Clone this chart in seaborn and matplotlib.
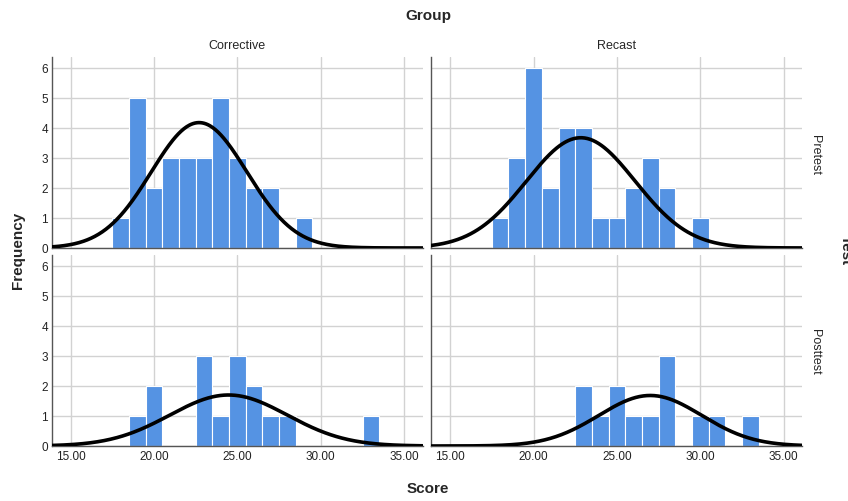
import numpy as np
import pandas as pd
import matplotlib
matplotlib.use("Agg")
import matplotlib.pyplot as plt
import seaborn as sns

# score values (bin centres, bin width 1) and counts
scores = [18, 19, 20, 21, 22, 23, 24, 25, 26, 27, 28, 29, 30, 31, 32, 33]
corrective_pre = [1, 5, 2, 3, 3, 3, 5, 3, 2, 2, 0, 1, 0, 0, 0, 0]
recast_pre = [1, 3, 6, 2, 4, 4, 1, 1, 2, 3, 2, 0, 1, 0, 0, 0]
corrective_post = [0, 1, 2, 0, 0, 3, 1, 3, 2, 1, 1, 0, 0, 0, 0, 1]
recast_post = [0, 0, 0, 0, 0, 2, 1, 2, 1, 1, 3, 0, 1, 1, 0, 1]

groups = ["Corrective", "Recast"]
tests = ["Pretest", "Posttest"]
x_ticks = [15, 20, 25, 30, 35]

counts = {
    ("Corrective", "Pretest"): corrective_pre,
    ("Recast", "Pretest"): recast_pre,
    ("Corrective", "Posttest"): corrective_post,
    ("Recast", "Posttest"): recast_post,
}

rows = []
for (grp, tst), cnt in counts.items():
    for s in np.repeat(scores, cnt):
        rows.append({"Group": grp, "Test": tst, "Score": float(s)})
df = pd.DataFrame(rows)

sns.set_style("white")
plt.rcParams["font.family"] = ["Liberation Sans", "DejaVu Sans"]

bar_color = "#5593E3"
grid_color = "#D2D2D2"
xlim = (13.88, 36.1)
ylim = (0, 6.36)
bins = np.arange(13.5, 36.6, 1)

g = sns.FacetGrid(df, row="Test", col="Group", row_order=tests, col_order=groups,
                  sharex=True, sharey=True, despine=False)
g.map_dataframe(sns.histplot, x="Score", bins=bins, color=bar_color, alpha=1,
                edgecolor="white", linewidth=0.8, zorder=2)

g.figure.set_size_inches(8.48, 5.02)
g.figure.subplots_adjust(left=52/848, right=802/848, top=1-58/502,
                         bottom=1-447/502, wspace=0.024, hspace=0.037)

xs = np.linspace(xlim[0], xlim[1], 400)
for i, tst in enumerate(tests):
    for j, grp in enumerate(groups):
        ax = g.axes[i, j]
        vals = df[(df.Group == grp) & (df.Test == tst)]["Score"]
        mu, sd, n = vals.mean(), vals.std(ddof=1), len(vals)
        ys = n * np.exp(-0.5 * ((xs - mu) / sd) ** 2) / (sd * np.sqrt(2 * np.pi))
        sns.lineplot(x=xs, y=ys, ax=ax, color="black", linewidth=2.6, zorder=3)
        ax.set_xlim(*xlim)
        ax.set_ylim(*ylim)
        ax.set_xticks(x_ticks)
        ax.set_yticks(range(0, 7))
        ax.set_xticklabels([f"{t:.2f}" for t in x_ticks])
        ax.grid(True, color=grid_color, linewidth=1, zorder=0)
        ax.set_axisbelow(True)
        ax.set_title("")
        ax.set_xlabel("")
        ax.set_ylabel("")
        ax.tick_params(length=0, labelsize=8.5, colors="#222222", pad=3)
        for side in ["top", "right"]:
            ax.spines[side].set_visible(False)
        for side in ["left", "bottom"]:
            ax.spines[side].set_color("#555555")
            ax.spines[side].set_linewidth(1)

fig = g.figure
fig.text(428/848, 1-16/502, "Group", ha="center", va="center", fontsize=11, fontweight="bold")
fig.text(237/848, 1-46/502, "Corrective", ha="center", va="center", fontsize=9)
fig.text(617/848, 1-46/502, "Recast", ha="center", va="center", fontsize=9)
fig.text(815/848, 1-155/502, "Pretest", ha="center", va="center", fontsize=9, rotation=270)
fig.text(815/848, 1-352/502, "Posttest", ha="center", va="center", fontsize=9, rotation=270)
fig.text(846/848, 1-250/502, "Test", ha="center", va="center", fontsize=11,
         fontweight="bold", rotation=270)
fig.text(18/848, 1-250/502, "Frequency", ha="center", va="center", fontsize=11,
         fontweight="bold", rotation=90)
fig.text(428/848, 1-489/502, "Score", ha="center", va="center", fontsize=11, fontweight="bold")

fig.savefig("out.png", dpi=100, facecolor="white")
